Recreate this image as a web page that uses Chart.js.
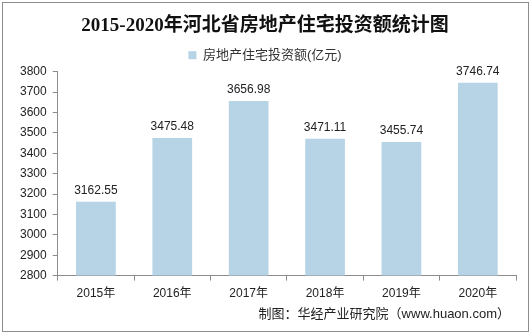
<!DOCTYPE html>
<html>
<head>
<meta charset="utf-8">
<script src="https://cdn.jsdelivr.net/npm/chart.js@4/dist/chart.umd.min.js"></script>
<style>
  html, body { margin: 0; padding: 0; background: #fff; }
  #wrap { width: 532px; height: 336px; position: relative; }
</style>
</head>
<body>
<div id="wrap"><canvas id="chart" width="532" height="336"></canvas></div>
<script>
const years = ["2015年", "2016年", "2017年", "2018年", "2019年", "2020年"]
const investment = [3162.55, 3475.48, 3656.98, 3471.11, 3455.74, 3746.74]
const seriesName = "房地产住宅投资额(亿元)"
const yMin = 2800
const yMax = 3800
const yStep = 100

const sansFont = "'Liberation Sans', Arial, 'Noto Sans CJK SC', sans-serif"

// frame + source note
const framePlugin = {
  id: "frame",
  afterDraw(chart) {
    const ctx = chart.ctx
    ctx.save()
    ctx.strokeStyle = "#8c8c8c"
    ctx.lineWidth = 1
    ctx.strokeRect(2.5, 2.5, 526, 329)
    ctx.fillStyle = "#222"
    ctx.font = "13px " + sansFont
    ctx.textAlign = "right"
    ctx.textBaseline = "middle"
    ctx.fillText("制图：华经产业研究院（www.huaon.com）", 510, 314)
    ctx.restore()
  }
}

const valueLabels = {
  id: "valueLabels",
  afterDatasetsDraw(chart) {
    const ctx = chart.ctx
    const meta = chart.getDatasetMeta(0)
    ctx.save()
    ctx.fillStyle = "#222"
    ctx.font = "12px " + sansFont
    ctx.textAlign = "center"
    ctx.textBaseline = "bottom"
    meta.data.forEach((bar, i) => {
      ctx.fillText(investment[i].toFixed(2), bar.x, bar.y - 5)
    })
    ctx.restore()
  }
}

new Chart(document.getElementById("chart").getContext("2d"), {
  type: "bar",
  data: {
    labels: years,
    datasets: [{
      label: seriesName,
      data: investment,
      backgroundColor: "#b7d3e6",
      barPercentage: 0.52,
      categoryPercentage: 1
    }]
  },
  options: {
    responsive: false,
    animation: false,
    devicePixelRatio: 1,
    layout: { padding: { left: 14, right: 16, top: 13, bottom: 29 } },
    plugins: {
      title: {
        display: true,
        text: "2015-2020年河北省房地产住宅投资额统计图",
        color: "#111",
        font: { family: "'Liberation Serif', 'Noto Sans CJK SC', serif", size: 19, weight: "bold" },
        padding: { top: 2, bottom: 6 }
      },
      legend: {
        position: "top",
        labels: {
          color: "#333",
          boxWidth: 8,
          boxHeight: 8,
          font: { family: sansFont, size: 13 },
          padding: 5
        }
      },
      tooltip: { enabled: false }
    },
    scales: {
      x: {
        grid: { display: true, drawOnChartArea: false, drawTicks: true, tickLength: 5, color: "#8c8c8c" },
        border: { color: "#8c8c8c" },
        ticks: { color: "#222", font: { family: sansFont, size: 12 }, padding: 6 }
      },
      y: {
        min: yMin,
        max: yMax,
        grid: { display: true, drawOnChartArea: false, drawTicks: true, tickLength: 5, color: "#8c8c8c" },
        border: { color: "#8c8c8c" },
        ticks: { stepSize: yStep, color: "#222", font: { family: sansFont, size: 12 }, padding: 6, callback: v => String(v) }
      }
    }
  },
  plugins: [framePlugin, valueLabels]
})
</script>
</body>
</html>
